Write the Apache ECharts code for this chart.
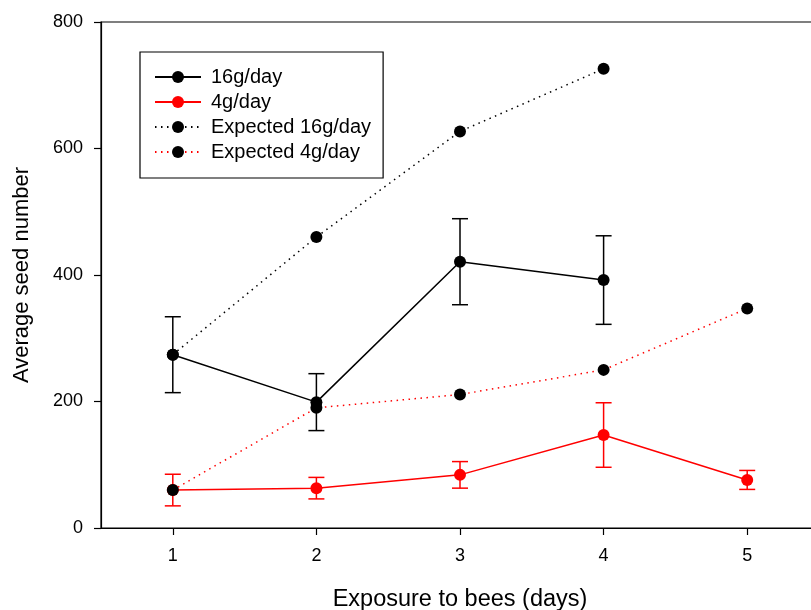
<!DOCTYPE html>
<html>
<head>
<meta charset="utf-8">
<script src="https://cdn.jsdelivr.net/npm/echarts@6/dist/echarts.min.js"></script>
<style>
html,body{margin:0;padding:0;background:#fff;}
#main{width:811px;height:610px;}
</style>
</head>
<body>
<div id="main"></div>
<script>
// ---- data ----
var xTicks = [1, 2, 3, 4, 5];
var days16 = [1, 2, 3, 4];
var days4 = [1, 2, 3, 4, 5];
var mean16 = [274, 199, 421, 392];
var err16 = [60, 45, 68, 70];
var mean4 = [60, 63, 84, 147, 76];
var err4 = [25, 17, 21, 51, 15];
var expected16 = [274, 460, 627, 726];
var expected4 = [60, 190, 211, 250, 347];
var seriesNames = ['16g/day', '4g/day', 'Expected 16g/day', 'Expected 4g/day'];

var FONT = 'Liberation Sans, Arial, sans-serif';

function pairs(xs, ys) { return xs.map(function (x, i) { return [x, ys[i]]; }); }
function errData(xs, ys, es) { return xs.map(function (x, i) { return [x, ys[i] - es[i], ys[i] + es[i]]; }); }

function errRender(color) {
  return function (params, api) {
    var x = api.value(0);
    var lo = api.coord([x, api.value(1)]);
    var hi = api.coord([x, api.value(2)]);
    var hw = 8;
    var st = { stroke: color, lineWidth: 1.5 };
    return {
      type: 'group',
      children: [
        { type: 'line', shape: { x1: lo[0], y1: lo[1], x2: hi[0], y2: hi[1] }, style: st },
        { type: 'line', shape: { x1: lo[0] - hw, y1: lo[1], x2: lo[0] + hw, y2: lo[1] }, style: st },
        { type: 'line', shape: { x1: hi[0] - hw, y1: hi[1], x2: hi[0] + hw, y2: hi[1] }, style: st }
      ]
    };
  };
}

var chart = echarts.init(document.getElementById('main'), null, { renderer: 'canvas' });
chart.setOption({
  animation: false,
  backgroundColor: '#fff',
  textStyle: { fontFamily: FONT },
  grid: { left: 101, top: 22, bottom: 82, right: -8, outerBoundsMode: 'none', containLabel: false,
    show: true, borderColor: '#000', borderWidth: 1.2, backgroundColor: 'transparent' },
  legend: {
    orient: 'vertical',
    left: 140, top: 52,
    data: seriesNames,
    borderColor: '#000', borderWidth: 1.2, borderRadius: 0,
    padding: [15, 12, 16, 14],
    itemGap: 5,
    itemWidth: 46, itemHeight: 15,
    textStyle: { fontFamily: FONT, fontSize: 20, color: '#000', padding: [0, 0, 0, 5] }
  },
  xAxis: {
    type: 'value', min: 0.5, max: 5.5,
    name: 'Exposure to bees (days)', nameLocation: 'middle', nameGap: 60,
    nameTextStyle: { fontFamily: FONT, fontSize: 23.5, color: '#000' },
    axisLine: { lineStyle: { color: '#000', width: 1.2 } },
    axisTick: { show: true, inside: false, length: 7, customValues: xTicks, lineStyle: { color: '#000', width: 1.2 } },
    axisLabel: { customValues: xTicks, margin: 19, fontFamily: FONT, fontSize: 18, color: '#000' },
    splitLine: { show: false }
  },
  yAxis: {
    type: 'value', min: 0, max: 800, interval: 200,
    name: 'Average seed number', nameLocation: 'middle', nameGap: 68, nameRotate: 90,
    nameTextStyle: { fontFamily: FONT, fontSize: 22, color: '#000' },
    axisLine: { show: true, lineStyle: { color: '#000', width: 1.2 } },
    axisTick: { show: true, inside: false, length: 7, lineStyle: { color: '#000', width: 1.2 } },
    axisLabel: { margin: 18, fontFamily: FONT, fontSize: 18, color: '#000' },
    splitLine: { show: false }
  },
  series: [
    { type: 'custom', name: 'err16', renderItem: errRender('#000'), data: errData(days16, mean16, err16), encode: { x: 0, y: [1, 2] }, z: 1, silent: true },
    { type: 'custom', name: 'err4', renderItem: errRender('#ff0000'), data: errData(days4, mean4, err4), encode: { x: 0, y: [1, 2] }, z: 1, silent: true },
    { type: 'line', name: seriesNames[0], data: pairs(days16, mean16), symbol: 'circle', symbolSize: 12,
      lineStyle: { color: '#000', width: 1.5 }, itemStyle: { color: '#000' }, z: 2 },
    { type: 'line', name: seriesNames[1], data: pairs(days4, mean4), symbol: 'circle', symbolSize: 12,
      lineStyle: { color: '#ff0000', width: 1.5 }, itemStyle: { color: '#ff0000' }, z: 2 },
    { type: 'line', name: seriesNames[2], data: pairs(days16, expected16), symbol: 'circle', symbolSize: 12,
      lineStyle: { color: '#000', width: 1.5, type: [1.5, 4.5] }, itemStyle: { color: '#000' }, z: 3 },
    { type: 'line', name: seriesNames[3], data: pairs(days4, expected4), symbol: 'circle', symbolSize: 12,
      lineStyle: { color: '#ff0000', width: 1.5, type: [1.5, 4.5] }, itemStyle: { color: '#000' }, z: 3 }
  ]
});
</script>
</body>
</html>
